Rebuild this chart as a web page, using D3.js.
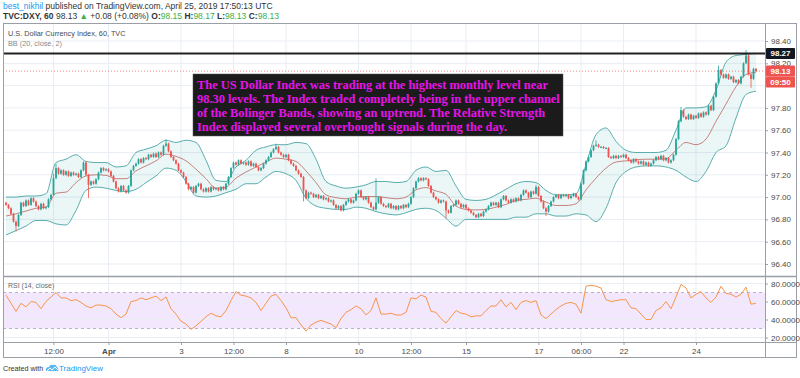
<!DOCTYPE html>
<html lang="en">
<head>
<meta charset="UTF-8">
<title>DXY 60</title>
<script src="https://d3js.org/d3.v7.min.js"></script>
<style>
  body { margin: 0; background: #fff; }
  svg text { font-family: "Liberation Sans", Arial, sans-serif; }
</style>
</head>
<body>
<svg id="chart" width="800" height="378"></svg>
<script>
// hourly closes (one per candle)
const closes = [
  96.93, 96.90, 96.85, 96.78, 96.74, 96.84, 96.95, 96.92, 96.97, 96.93,
  96.99, 96.96, 96.92, 96.89, 96.94, 96.90, 96.91, 96.98, 97.02, 97.17,
  97.26, 97.21, 97.24, 97.20, 97.23, 97.19, 97.22, 97.20, 97.21, 97.18,
  97.24, 97.31, 97.20, 97.11, 97.14, 97.12, 97.16, 97.22, 97.26, 97.24,
  97.25, 97.23, 97.19, 97.14, 97.08, 97.05, 97.10, 97.06, 97.04, 97.10,
  97.24, 97.28, 97.30, 97.34, 97.31, 97.35, 97.34, 97.38, 97.36, 97.39,
  97.36, 97.40, 97.38, 97.46, 97.48, 97.41, 97.36, 97.33, 97.30, 97.24,
  97.22, 97.18, 97.12, 97.07, 97.09, 97.04, 97.10, 97.12, 97.07, 97.05,
  97.08, 97.05, 97.09, 97.07, 97.08, 97.06, 97.09, 97.07, 97.12, 97.18,
  97.26, 97.31, 97.29, 97.33, 97.30, 97.31, 97.29, 97.32, 97.28, 97.30,
  97.27, 97.24, 97.26, 97.30, 97.33, 97.36, 97.40, 97.43, 97.45, 97.40,
  97.38, 97.36, 97.38, 97.33, 97.30, 97.28, 97.24, 97.21, 97.18, 97.06,
  96.99, 97.04, 97.03, 97.00, 97.02, 96.99, 97.01, 96.98, 96.99, 96.96,
  96.97, 96.93, 96.90, 96.92, 96.88, 96.93, 96.96, 96.98, 96.95, 96.97,
  97.03, 97.06, 97.00, 96.98, 97.00, 96.95, 96.91, 96.89, 96.95, 97.00,
  96.94, 96.92, 96.91, 96.94, 96.90, 96.92, 96.89, 96.92, 96.90, 96.93,
  96.91, 96.94, 97.00, 97.08, 97.14, 97.17, 97.15, 97.17, 97.16, 97.10,
  97.04, 97.00, 96.98, 96.95, 96.97, 96.96, 96.88, 96.86, 96.92, 96.93,
  96.97, 96.94, 96.91, 96.93, 96.90, 96.88, 96.86, 96.84, 96.82, 96.85,
  96.83, 96.87, 96.89, 96.92, 96.95, 96.93, 96.95, 96.91, 96.98, 97.01,
  96.97, 96.95, 96.98, 96.96, 96.99, 96.97, 97.02, 97.06, 97.04, 97.00,
  97.05, 97.03, 97.09, 97.01, 96.96, 96.90, 96.87, 96.92, 96.96, 97.00,
  97.02, 96.99, 97.02, 97.01, 97.02, 96.99, 97.01, 97.03, 97.00, 96.98,
  97.12, 97.24, 97.32, 97.36, 97.42, 97.46, 97.47, 97.45, 97.45, 97.44,
  97.44, 97.36, 97.35, 97.37, 97.35, 97.37, 97.36, 97.38, 97.35, 97.33,
  97.31, 97.34, 97.32, 97.30, 97.32, 97.29, 97.31, 97.28, 97.30, 97.33,
  97.36, 97.34, 97.37, 97.33, 97.35, 97.31, 97.33, 97.38, 97.52, 97.68,
  97.78, 97.72, 97.70, 97.74, 97.70, 97.73, 97.71, 97.75, 97.72, 97.76,
  97.74, 97.82, 97.78, 97.90, 98.02, 98.14, 98.10, 98.07, 98.10, 98.06,
  98.08, 98.03, 98.05, 98.02, 98.08, 98.20, 98.27, 98.10, 98.06, 98.15,
  98.13
];
const firstOpen = 96.95;
// wicks that reach past the candle body: [candle, price]
const wickHighs = [[19, 97.20], [20, 97.29], [64, 97.51], [108, 97.47], [148, 97.16],
                   [212, 97.10], [236, 97.50], [270, 97.80], [285, 98.17], [296, 98.31]];
const wickLows = [[4, 96.70], [33, 97.00], [119, 96.97], [176, 96.82], [216, 96.84], [298, 97.99]];

// Bollinger Bands (20, close, 2), read every 4th candle
const bbUpper = [
  97.00, 97.00, 97.01, 97.01, 97.03, 97.31, 97.34, 97.38, 97.32, 97.31,
  97.31, 97.27, 97.28, 97.40, 97.43, 97.46, 97.51, 97.49, 97.51, 97.49,
  97.33, 97.15, 97.14, 97.27, 97.33, 97.42, 97.45, 97.47, 97.47, 97.49,
  97.48, 97.34, 97.14, 97.10, 97.08, 97.09, 97.11, 97.14, 97.14, 97.13,
  97.14, 97.24, 97.27, 97.23, 97.24, 97.10, 96.98, 96.97, 96.98, 97.02,
  97.07, 97.12, 97.14, 97.13, 97.06, 97.02, 97.02, 97.03, 97.29, 97.56,
  97.62, 97.50, 97.42, 97.40, 97.40, 97.40, 97.42, 97.60, 97.80, 97.80,
  97.81, 97.96, 98.21, 98.27, 98.28, 98.29
];
const bbLower = [
  96.66, 96.70, 96.74, 96.79, 96.79, 96.76, 96.75, 96.88, 97.06, 97.09,
  97.08, 97.06, 97.05, 97.07, 97.13, 97.19, 97.26, 97.24, 97.14, 97.01,
  97.00, 97.01, 97.04, 97.07, 97.12, 97.12, 97.18, 97.23, 97.21, 97.15,
  96.99, 96.92, 96.90, 96.89, 96.89, 96.91, 96.90, 96.87, 96.85, 96.84,
  96.86, 96.89, 96.90, 96.88, 96.81, 96.74, 96.80, 96.80, 96.80, 96.80,
  96.80, 96.82, 96.82, 96.85, 96.85, 96.83, 96.83, 96.85, 96.84, 96.78,
  96.90, 97.13, 97.23, 97.27, 97.28, 97.28, 97.27, 97.24, 97.18, 97.14,
  97.23, 97.40, 97.46, 97.71, 97.92, 97.95
];
const bbStep = 4;

// RSI (14, close), read every 2nd candle
const rsi = [
  67, 58, 49, 58, 54, 60, 59, 52, 60, 65,
  70, 64, 64, 61, 62, 59, 55, 53, 56, 56,
  55, 52, 46, 42, 46, 60, 61, 64, 62, 64,
  66, 61, 65, 52, 46, 38, 35, 29, 33, 38,
  43, 47, 44, 43, 50, 61, 71, 67, 66, 64,
  59, 50, 58, 66, 68, 61, 53, 42, 42, 34,
  27, 34, 37, 39, 37, 35, 31, 41, 48, 51,
  55, 52, 45, 50, 64, 46, 46, 47, 45, 45,
  48, 64, 63, 67, 65, 49, 48, 41, 36, 43,
  50, 47, 46, 43, 44, 44, 50, 55, 55, 62,
  54, 59, 51, 59, 61, 59, 61, 45, 41, 46,
  51, 55, 58, 59, 57, 47, 77, 78, 77, 75,
  62, 60, 61, 62, 62, 53, 52, 46, 40, 40,
  50, 53, 60, 52, 65, 79, 75, 64, 68, 71,
  64, 59, 65, 77, 69, 68, 65, 68, 76, 57,
  58
];
const rsiStep = 2;

const timeTickIdx = [19, 41, 70, 91, 112, 141, 162, 184, 213, 230, 247, 276];
const timeTickLabels = ["12:00", "Apr", "3", "12:00", "8", "10", "12:00", "15", "17", "06:00", "22", "24"];
const priceTicks = [96.4, 96.6, 96.8, 97.0, 97.2, 97.4, 97.6, 97.8, 98.0, 98.2, 98.4];
const rsiTicks = [20, 40, 60, 80];
const rsiBand = [30, 70];
const highLevel = 98.27;
const lastPrice = 98.13;
const countdown = "09:50";

const noteLines = [
  "The US Dollar Index was trading at the highest monthly level near",
  "98.30 levels. The Index traded completely being in the upper channel",
  "of the Bolinger Bands, showing an uptrend. The Relative Strength",
  "Index displayed several overbought signals during the day."
];

// layout
const L = 3, R = 797, axisX = 765;
const mainTop = 23, mainBot = 276, rsiTop = 277, rsiBot = 342, frameBot = 357;
const up = "#26a69a", down = "#ef5350", gridC = "#e9eef4";

const svg = d3.select("#chart");
svg.append("rect").attr("width", 800).attr("height", 378).attr("fill", "#fff");

const x = d3.scaleLinear().domain([0, closes.length - 1]).range([6, 756]);
const y = d3.scaleLinear().domain([96.4, 98.4]).range([264, 41]);
const yR = d3.scaleLinear().domain([20, 80]).range([337.5, 283.5]);

const defs = svg.append("defs");
defs.append("clipPath").attr("id", "clipMain").append("rect")
  .attr("x", L).attr("y", mainTop).attr("width", axisX - L).attr("height", mainBot - mainTop);
defs.append("clipPath").attr("id", "clipRsi").append("rect")
  .attr("x", L).attr("y", rsiTop).attr("width", axisX - L).attr("height", rsiBot - rsiTop);

// grid
const grid = svg.append("g");
grid.selectAll(".vg").data(timeTickIdx).join("line")
  .attr("x1", d => x(d)).attr("x2", d => x(d))
  .attr("y1", mainTop).attr("y2", rsiBot)
  .attr("stroke", gridC);
grid.selectAll(".hg").data(priceTicks).join("line")
  .attr("x1", L).attr("x2", axisX)
  .attr("y1", d => y(d)).attr("y2", d => y(d))
  .attr("stroke", gridC);

// main pane
const main = svg.append("g").attr("clip-path", "url(#clipMain)");

const band = bbUpper.map((u, k) => ({ i: k * bbStep, u, l: bbLower[k], m: (u + bbLower[k]) / 2 }));
const curve = d3.curveMonotoneX;
main.append("path").datum(band)
  .attr("fill", "rgba(38,150,150,0.09)")
  .attr("d", d3.area().curve(curve).x(d => x(d.i)).y0(d => y(d.l)).y1(d => y(d.u)));
["u", "l"].forEach(k => {
  main.append("path").datum(band)
    .attr("fill", "none").attr("stroke", "#5aaeae").attr("stroke-width", 1)
    .attr("d", d3.line().curve(curve).x(d => x(d.i)).y(d => y(d[k])));
});
main.append("path").datum(band)
  .attr("fill", "none").attr("stroke", "#b5554f").attr("stroke-width", 0.9).attr("opacity", 0.8)
  .attr("d", d3.line().curve(curve).x(d => x(d.i)).y(d => y(d.m)));

const hiMap = new Map(wickHighs), loMap = new Map(wickLows);
const candles = closes.map((c, i) => {
  const o = i === 0 ? firstOpen : closes[i - 1];
  let hi = Math.max(o, c), lo = Math.min(o, c);
  if (hiMap.has(i)) hi = Math.max(hi, hiMap.get(i));
  if (loMap.has(i)) lo = Math.min(lo, loMap.get(i));
  return { i, o, c, hi, lo, col: c >= o ? up : down };
});
const cg = main.append("g");
cg.selectAll("line").data(candles).join("line")
  .attr("x1", d => x(d.i)).attr("x2", d => x(d.i))
  .attr("y1", d => y(d.hi) - 1).attr("y2", d => y(d.lo) + 1)
  .attr("stroke", d => d.col).attr("stroke-width", 0.8);
cg.selectAll("rect").data(candles).join("rect")
  .attr("x", d => x(d.i) - 0.9).attr("width", 1.8)
  .attr("y", d => y(Math.max(d.o, d.c)))
  .attr("height", d => Math.max(1, Math.abs(y(d.o) - y(d.c))))
  .attr("fill", d => d.col);

// level lines
main.append("line").attr("x1", L).attr("x2", axisX)
  .attr("y1", y(lastPrice)).attr("y2", y(lastPrice))
  .attr("stroke", "#ef5350").attr("stroke-dasharray", "1,2").attr("opacity", 0.7);
main.append("line").attr("x1", L).attr("x2", axisX)
  .attr("y1", y(highLevel) - 2).attr("y2", y(highLevel) - 2)
  .attr("stroke", "#222").attr("stroke-width", 2);

// annotation box
const note = svg.append("g");
note.append("rect").attr("x", 193).attr("y", 74).attr("width", 370).attr("height", 62)
  .attr("fill", "#1b1b1b").attr("stroke", "#555").attr("stroke-width", 0.5);
const noteText = note.selectAll("text").data(noteLines).join("text")
  .attr("x", 197).attr("y", (d, i) => 89 + i * 14)
  .attr("fill", "#e614e6")
  .style("font-family", "'Liberation Serif', 'Times New Roman', serif")
  .style("font-weight", "bold").style("font-size", "14px")
  .text(d => d);
const wMax = d3.max(noteText.nodes(), n => n.getComputedTextLength());
noteText.style("font-size", (14 * 363 / wMax).toFixed(2) + "px");

// RSI pane
const rp = svg.append("g").attr("clip-path", "url(#clipRsi)");
rp.append("rect").attr("x", L).attr("width", axisX - L)
  .attr("y", yR(rsiBand[1])).attr("height", yR(rsiBand[0]) - yR(rsiBand[1]))
  .attr("fill", "#f3e7fd");
rp.selectAll(".rg").data(rsiTicks).join("line")
  .attr("x1", L).attr("x2", axisX).attr("y1", d => yR(d)).attr("y2", d => yR(d))
  .attr("stroke", gridC);
rp.selectAll(".rb").data(rsiBand).join("line")
  .attr("x1", L).attr("x2", axisX).attr("y1", d => yR(d)).attr("y2", d => yR(d))
  .attr("stroke", "#bcaed0").attr("stroke-dasharray", "3,3");
rp.append("path").datum(rsi)
  .attr("fill", "none").attr("stroke", "#f7954a").attr("stroke-width", 1)
  .attr("d", d3.line().x((d, m) => x(m * rsiStep)).y(d => yR(d)));

// frame & separators
const fr = svg.append("g").attr("stroke", "#9a9ea6").attr("fill", "none");
fr.append("rect").attr("x", L + 0.5).attr("y", mainTop + 0.5)
  .attr("width", R - L - 1).attr("height", frameBot - mainTop);
fr.append("line").attr("x1", axisX + 0.5).attr("x2", axisX + 0.5).attr("y1", mainTop).attr("y2", frameBot);
fr.append("line").attr("x1", L).attr("x2", R).attr("y1", mainBot + 0.5).attr("y2", mainBot + 0.5).attr("stroke-width", 1.5);
fr.append("line").attr("x1", L).attr("x2", R).attr("y1", rsiBot + 0.5).attr("y2", rsiBot + 0.5);

// axes
function styleAxis(g) {
  g.select(".domain").remove();
  g.selectAll(".tick line").attr("stroke", "#9a9ea6");
  g.selectAll(".tick text").attr("fill", "#4a4a4a").style("font-size", "8px");
}
// the 98.00 label sits under the countdown tag, as on the original
const hiddenTicks = [98.0];
svg.append("g").attr("transform", `translate(${axisX},0)`)
  .call(d3.axisRight(y).tickValues(priceTicks)
    .tickFormat(d => hiddenTicks.includes(d) ? "" : d3.format(".2f")(d)).tickSize(3))
  .call(styleAxis);
svg.append("g").attr("transform", `translate(${axisX},0)`)
  .call(d3.axisRight(yR).tickValues(rsiTicks).tickFormat(d3.format(".4f")).tickSize(3))
  .call(styleAxis);
const xa = svg.append("g").attr("transform", `translate(0,${rsiBot})`)
  .call(d3.axisBottom(x).tickValues(timeTickIdx).tickFormat((d, i) => timeTickLabels[i]).tickSize(3))
  .call(styleAxis);
xa.selectAll(".tick text").style("font-weight", (d, i) => timeTickLabels[i] === "Apr" ? "bold" : "normal");

// price labels
function priceTag(v, txt, bg, dy) {
  const g = svg.append("g");
  g.append("rect").attr("x", axisX + 1).attr("y", y(v) - 5.5 + dy).attr("width", 29).attr("height", 11)
    .attr("rx", 1).attr("fill", bg);
  g.append("text").attr("x", axisX + 15.5).attr("y", y(v) + 3 + dy)
    .attr("text-anchor", "middle").attr("fill", "#fff")
    .style("font-size", "8px").style("font-weight", "bold").text(txt);
}
priceTag(highLevel, highLevel.toFixed(2), "#131722", -2);
priceTag(lastPrice, lastPrice.toFixed(2), "#ef5350", 0);
priceTag(lastPrice, countdown, "#ef5350", 11);

// pane titles
svg.append("text").attr("x", 8).attr("y", 36).attr("fill", "#4a4a4a")
  .style("font-size", "7.3px").text("U.S. Dollar Currency Index, 60, TVC");
svg.append("text").attr("x", 8).attr("y", 46).attr("fill", "#8a8a8a")
  .style("font-size", "7.3px").text("BB (20, close, 2)");
svg.append("text").attr("x", 8).attr("y", 288).attr("fill", "#6a6a6a")
  .style("font-size", "7px").text("RSI (14, close)");

// header
const h1 = svg.append("text").attr("x", 3).attr("y", 9).style("font-size", "8.5px");
h1.append("tspan").attr("fill", "#2196f3").text("best_nikhil");
h1.append("tspan").attr("fill", "#333").text(" published on TradingView.com, April 25, 2019 17:50:13 UTC");
const h2 = svg.append("text").attr("x", 3).attr("y", 19).style("font-size", "8.5px").attr("fill", "#333");
const green = "#3cae48";
[["TVC:DXY, 60", "bold", "#333"], [" 98.13 ", "normal", "#333"], ["\u25B2", "normal", green],
 [" +0.08 (+0.08%) ", "normal", "#333"], ["O:", "bold", "#333"], ["98.15", "normal", green],
 [" H:", "bold", "#333"], ["98.17", "normal", green], [" L:", "bold", "#333"], ["98.13", "normal", green],
 [" C:", "bold", "#333"], ["98.13", "normal", green]]
  .forEach(p => h2.append("tspan").style("font-weight", p[1]).attr("fill", p[2]).text(p[0]));

// footer
svg.append("text").attr("x", 3).attr("y", 371).attr("fill", "#333").style("font-size", "7.2px").text("Created with");
const logo = svg.append("g").attr("transform", "translate(45,364)");
logo.append("path").attr("d", "M1,7 Q0,3 4,3 Q5,0 8,1 Q11,0 12,3 Q14,4 13,7 Z").attr("fill", "#5eb8f5");
logo.append("path").attr("d", "M2,7 L5,4 L7,6 L10,3 L13,6").attr("fill", "none").attr("stroke", "#fff").attr("stroke-width", 1);
svg.append("text").attr("x", 59).attr("y", 371).attr("fill", "#2196f3").style("font-size", "8px").text("TradingView");
</script>
</body>
</html>
